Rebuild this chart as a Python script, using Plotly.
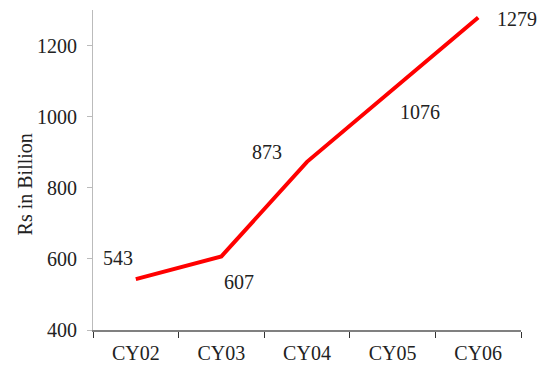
import plotly.graph_objects as go

years = ["CY02", "CY03", "CY04", "CY05", "CY06"]
values = [543, 607, 873, 1076, 1279]
# label offsets (px) relative to each point
label_dx = [-18, 18, -40, 27, 39]
label_dy = [21, -26, 10, -22, -2]

font_family = "Liberation Serif"

fig = go.Figure()
fig.add_trace(go.Scatter(
    x=years, y=values, mode="lines",
    line=dict(color="#ff0000", width=4),
    hoverinfo="skip",
))

for yr, v, dx, dy in zip(years, values, label_dx, label_dy):
    fig.add_annotation(
        x=yr, y=v, text=str(v), showarrow=False,
        xshift=dx, yshift=dy,
        font=dict(family=font_family, size=20, color="#222222"),
    )

# y-axis title
fig.add_annotation(
    xref="paper", yref="paper", x=0, y=0.455, xshift=-68,
    xanchor="center", yanchor="middle",
    text="Rs in Billion", textangle=-90, showarrow=False,
    font=dict(family=font_family, size=20, color="#222222"),
)

fig.update_layout(
    width=542, height=375,
    margin=dict(l=93, r=21, t=10, b=45),
    paper_bgcolor="white", plot_bgcolor="white",
    showlegend=False,
    font=dict(family=font_family, size=20, color="#222222"),
)
fig.update_xaxes(
    type="category", tickson="boundaries",
    range=[-0.5, len(years) - 0.5],
    showline=True, linecolor="#808080", linewidth=2,
    ticks="outside", ticklen=6, tickcolor="#333333", tickwidth=1,
    showgrid=False, zeroline=False,
    ticklabelstandoff=4,
)
fig.update_yaxes(
    range=[400, 1300], tickvals=[400, 600, 800, 1000, 1200],
    showline=True, linecolor="#bbbbbb", linewidth=1,
    ticks="outside", ticklen=5, tickcolor="#bbbbbb",
    showgrid=False, zeroline=False,
    ticklabelstandoff=6,
)

fig.write_html("out.html")
